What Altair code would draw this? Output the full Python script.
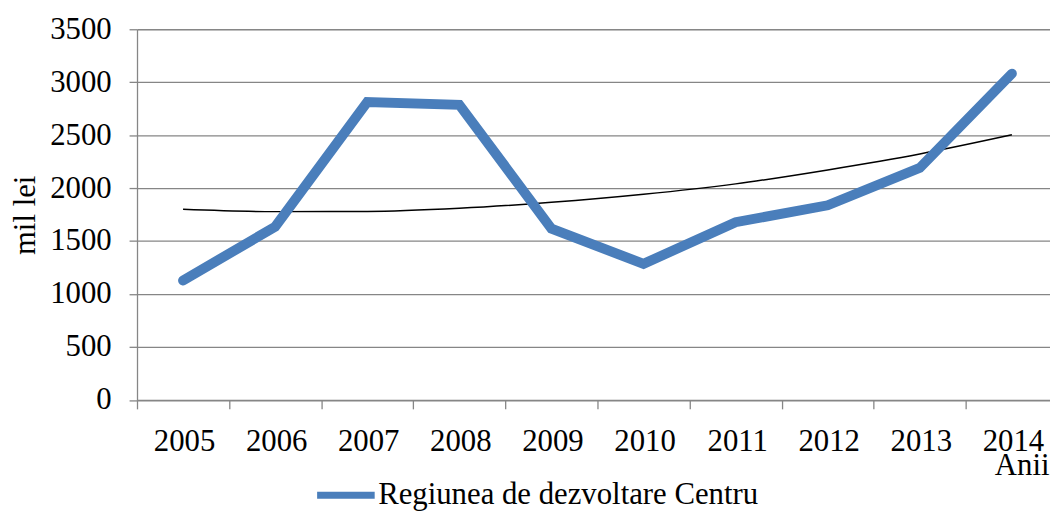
import altair as alt
import pandas as pd

years = ["2005", "2006", "2007", "2008", "2009", "2010", "2011", "2012", "2013", "2014"]
values = [1128, 1635, 2812, 2787, 1617, 1285, 1678, 1838, 2191, 3081]
trend = [1800, 1778, 1780, 1810, 1866, 1942, 2040, 2172, 2322, 2503]
series_name = "Regiunea de dezvoltare Centru"
y_ticks = [0, 500, 1000, 1500, 2000, 2500, 3000, 3500]

df = pd.DataFrame({"year": years, "value": values, "trend": trend, "series": series_name})

FONT = "Liberation Serif"
FS = 31

x_scale = alt.Scale(type="band", paddingInner=0, paddingOuter=0)

x_enc = alt.X(
    "year:O",
    bandPosition=0.5,
    scale=x_scale,
    axis=alt.Axis(
        title="Anii",
        tickBand="extent",
        labelAngle=0,
        labelOffset=32,
        labelFont=FONT, labelFontSize=FS, labelColor="black",
        labelPadding=33, tickSize=9, tickColor="#868686", tickWidth=1.3,
        domainColor="#868686", domainWidth=1.3, grid=False,
        titleFont=FONT, titleFontSize=FS, titleFontWeight="normal", titleColor="black",
        titleX=919, titleY=75, titleAlign="right", titleBaseline="alphabetic", titleAnchor="end",
    ),
)

y_scale = alt.Scale(domain=[0, 3500], nice=False, zero=True)
y_axis = alt.Axis(
    title="mil lei",
    values=y_ticks,
    format="d",
    labelFont=FONT, labelFontSize=FS, labelColor="black",
    labelPadding=18, tickSize=8, tickColor="#868686", tickWidth=1.3,
    domainColor="#868686", domainWidth=1.3,
    grid=True, gridColor="#868686", gridWidth=1.3,
    titleFont=FONT, titleFontSize=FS, titleFontWeight="normal", titleColor="black",
    titleAngle=-90, titleX=-112, titleY=187, titleAlign="center", titleBaseline="middle",
)

main = alt.Chart(df).mark_line(
    strokeWidth=10, strokeCap="round", strokeJoin="miter"
).encode(
    x=x_enc,
    y=alt.Y("value:Q", scale=y_scale, axis=y_axis),
    color=alt.Color(
        "series:N",
        scale=alt.Scale(domain=[series_name], range=["#4A7EBB"]),
        legend=alt.Legend(
            title=None, orient="none", legendX=178, legendY=437,
            symbolType="stroke", symbolSize=3364, symbolStrokeWidth=7,
            labelFont=FONT, labelFontSize=FS, labelColor="black",
            labelOffset=0, labelLimit=0, padding=0, symbolOffset=0,
        ),
    ),
)

trend_line = alt.Chart(df).mark_line(
    color="black", strokeWidth=1.5, interpolate="monotone"
).encode(
    x=alt.X("year:O", bandPosition=0.5, scale=x_scale),
    y=alt.Y("trend:Q", scale=y_scale),
)

chart = alt.layer(trend_line, main).properties(
    width=928,
    height=373.5,
    autosize=alt.AutoSizeParams(type="none"),
    padding={"left": 130, "top": 19.5, "right": -8, "bottom": 110},
).configure_view(stroke=None).configure(background="white")

chart.save("out.html", embed_options={"renderer": "svg", "actions": False})
